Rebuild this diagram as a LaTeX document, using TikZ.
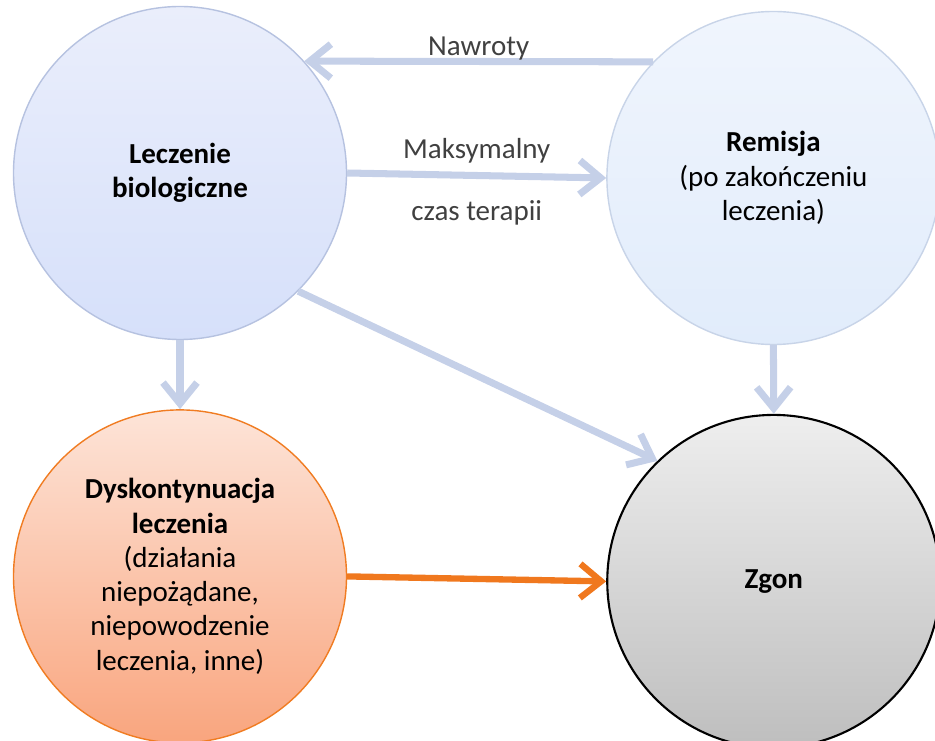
\documentclass[tikz,border=0pt]{standalone}
\usepackage{fontspec}
\setmainfont{Carlito}
\definecolor{myLecTop}{RGB}{234,238,251}
\definecolor{myLecBot}{RGB}{214,224,250}
\definecolor{myLecLine}{RGB}{182,194,224}
\definecolor{myRemTop}{RGB}{240,245,253}
\definecolor{myRemBot}{RGB}{225,236,251}
\definecolor{myRemLine}{RGB}{200,212,232}
\definecolor{myDysTop}{RGB}{253,228,216}
\definecolor{myDysBot}{RGB}{249,165,126}
\definecolor{myDysLine}{RGB}{240,124,34}
\definecolor{myZgoTop}{RGB}{238,238,238}
\definecolor{myZgoBot}{RGB}{190,190,190}
\definecolor{myArrow}{RGB}{197,208,232}
\definecolor{myOrange}{RGB}{240,120,30}
\definecolor{myLabel}{RGB}{64,64,64}
\usepackage{tikz}
\usetikzlibrary{arrows.meta, positioning}

\begin{document}
\begin{tikzpicture}[
  >={Straight Barb[length=4.2mm, width=6.8mm]}, node distance=13.8mm and 51.8mm,
  phase/.style={circle, minimum size=66.6mm, inner sep=2pt, align=center,
                line width=0.8pt, font=\fontsize{16.5}{19.5}\selectfont},
  flow/.style={->, line width=4pt, myArrow},
  lbl/.style={inner sep=0pt, text=myLabel, font=\fontsize{16.5}{19.5}\selectfont}]
  \useasboundingbox (0,0) rectangle (18.7,14.8);
  \node[phase, draw=myLecLine, top color=myLecTop, bottom color=myLecBot] (lec) at (3.6,11.34)
    {\textbf{Leczenie}\\\textbf{biologiczne}};
  \node[phase, draw=myRemLine, top color=myRemTop, bottom color=myRemBot, right=of lec, yshift=-1mm] (rem)
    {\textbf{Remisja}\\(po zakończeniu\\leczenia)};
  \node[phase, draw=myDysLine, top color=myDysTop, bottom color=myDysBot, below=of lec] (dys)
    {\textbf{Dyskontynuacja}\\\textbf{leczenia}\\(działania\\niepożądane,\\niepowodzenie\\leczenia, inne)};
  \node[phase, draw=black, line width=1.2pt, top color=myZgoTop, bottom color=myZgoBot, right=of dys, yshift=-1mm] (zgon)
    {\textbf{Zgon}};
  \draw[flow] (rem.136) -- node[lbl, anchor=base, yshift=3.5pt] (nawroty) {Nawroty} (lec.42);
  \draw[flow] (lec.east) -- node[lbl, above=5pt] (maks) {Maksymalny}
    node[lbl, below=12pt] (czas) {czas terapii} (rem.west);
  \draw[flow] (lec.south) -- (dys.north);
  \draw[flow] (rem.south) -- (zgon.north);
  \draw[flow] (lec.-45) -- (zgon.134);
  \draw[flow, myOrange, line width=3.6pt] (dys.east) -- (zgon.west);
\end{tikzpicture}
\end{document}
